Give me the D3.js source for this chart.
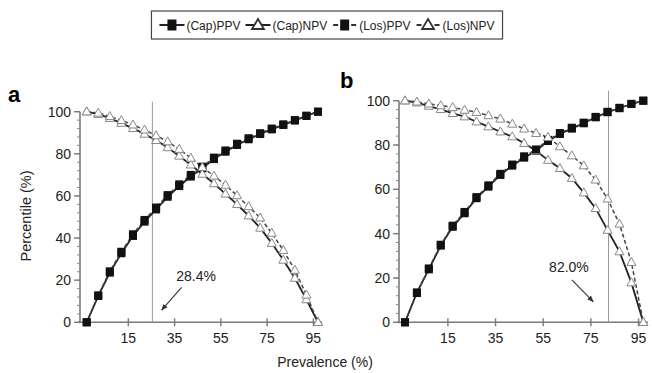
<!DOCTYPE html>
<html>
<head>
<meta charset="utf-8">
<script src="https://cdn.jsdelivr.net/npm/d3@7"></script>
<style>
  body { margin: 0; background: #fff; }
  text { font-family: "Liberation Sans", Arial, sans-serif; fill: #222; }
</style>
</head>
<body>
<svg id="chart" width="652" height="373"></svg>
<script>
// prevalence (%) of each point, shared by both panels
const prevalence = [0, 5, 10, 15, 20, 25, 30, 35, 40, 45, 50, 55, 60, 65, 70, 75, 80, 85, 90, 95, 100];

// panel a
const capPPV_a = [0, 12.5, 23.6, 32.8, 41.0, 47.8, 53.6, 59.6, 64.7, 69.2, 73.1, 77.5, 81.0, 84.2, 86.9, 89.4, 91.6, 93.7, 95.8, 98.0, 100];
const losPPV_a = [0, 12.8, 24.2, 33.5, 41.8, 48.6, 54.5, 60.4, 65.5, 70.0, 73.9, 78.2, 81.6, 84.8, 87.4, 89.8, 92.0, 94.0, 96.0, 98.1, 100];
const capNPV_a = [100, 98.8, 96.9, 94.6, 92.1, 89.4, 86.4, 83.0, 79.0, 74.8, 70.4, 65.9, 61.0, 56.0, 50.6, 44.8, 37.6, 29.6, 21.0, 10.8, 0];
const losNPV_a = [100, 99.4, 97.8, 95.9, 93.8, 91.4, 88.7, 85.8, 82.2, 78.0, 73.6, 69.5, 65.2, 60.2, 55.0, 49.6, 42.4, 34.2, 24.8, 13.0, 0];

// panel b
const capPPV_b = [0, 13.5, 23.9, 34.6, 43.1, 49.2, 56.0, 61.2, 66.5, 70.7, 74.3, 77.4, 81.8, 85.0, 87.4, 89.8, 92.5, 94.8, 96.6, 98.5, 100];
const losPPV_b = [0, 13.2, 24.3, 35.0, 43.6, 49.8, 56.5, 61.8, 67.0, 71.2, 74.9, 78.0, 82.3, 85.4, 87.8, 90.1, 92.7, 95.0, 96.8, 98.6, 100];
const capNPV_b = [100, 99.1, 97.6, 96.1, 94.3, 92.8, 90.5, 88.3, 86.0, 83.8, 80.8, 77.4, 73.2, 69.5, 65.0, 58.5, 51.4, 41.6, 31.9, 17.9, 0];
const losNPV_b = [100, 99.5, 98.6, 97.8, 97.0, 95.8, 94.8, 93.3, 91.8, 89.5, 87.3, 85.3, 83.5, 79.3, 75.2, 70.7, 64.3, 55.7, 44.4, 27.1, 0];

const xTickLabels = [15, 35, 55, 75, 95];
const yTicks = [0, 20, 40, 60, 80, 100];
const seriesNames = ["(Cap)PPV", "(Cap)NPV", "(Los)PPV", "(Los)NPV"];

// cut-off line (where it sits on the x axis) and its label, per panel
const cutPos = [28.4, 85.4];
const cutLabels = ["28.4%", "82.0%"];
// arrow tail / tip and label spot, in data units
const arrowTail = [[41, 16.6], [70, 19.1]];
const arrowTip = [[32.4, 5.8], [79, 9.3]];
const labelAt = [[47.3, 19.4], [68.8, 22.6]];

const svg = d3.select("#chart");

svg.append("defs").append("marker")
    .attr("id", "arrow")
    .attr("viewBox", "0 0 10 10")
    .attr("refX", 9).attr("refY", 5)
    .attr("markerWidth", 6).attr("markerHeight", 6)
    .attr("orient", "auto")
  .append("path")
    .attr("d", "M0,1 L10,5 L0,9 z")
    .attr("fill", "#333");

const styles = {
    "(Cap)PPV": { dash: null, sym: "square" },
    "(Cap)NPV": { dash: null, sym: "tri" },
    "(Los)PPV": { dash: "4,2.5", sym: "square" },
    "(Los)NPV": { dash: "4,2.5", sym: "tri" }
};

function drawMarker(g, kind, x, y, big) {
    if (kind === "square") {
        const w = big ? 9 : 8, h = big ? 11 : 8;
        g.append("rect")
            .attr("x", x - w / 2).attr("y", y - h / 2)
            .attr("width", w).attr("height", h)
            .attr("fill", "#111");
    } else {
        const w = big ? 12 : 9, h = big ? 10 : 8;
        g.append("path")
            .attr("d", `M${x},${y - h * 0.6} L${x + w / 2},${y + h * 0.4} L${x - w / 2},${y + h * 0.4} Z`)
            .attr("fill", "#fff")
            .attr("stroke", big ? "#333" : "#888")
            .attr("stroke-width", big ? 1.8 : 1);
    }
}

const panels = [
    { letter: "a", axisL: 80, axisR: 322, xr: [86.7, 318], yr: [322.3, 111.7], lx: 8, ly: 102,
      data: { "(Cap)PPV": capPPV_a, "(Cap)NPV": capNPV_a, "(Los)PPV": losPPV_a, "(Los)NPV": losNPV_a } },
    { letter: "b", axisL: 399, axisR: 648, xr: [405, 643.3], yr: [322.3, 100.7], lx: 340, ly: 88,
      data: { "(Cap)PPV": capPPV_b, "(Cap)NPV": capNPV_b, "(Los)PPV": losPPV_b, "(Los)NPV": losNPV_b } }
];

const tickShift = 3; // printed tick labels sit a little right of their value

panels.forEach((p, pi) => {
    const x = d3.scaleLinear().domain([0, 100]).range(p.xr);
    const y = d3.scaleLinear().domain([0, 100]).range(p.yr);
    const g = svg.append("g");

    // y axis with minor ticks
    g.append("line")
        .attr("x1", p.axisL).attr("x2", p.axisL)
        .attr("y1", y(0) + 1).attr("y2", y(100))
        .attr("stroke", "#7a7a7a").attr("stroke-width", 1.6);
    d3.range(0, 101, 4).forEach(v => {
        g.append("line")
            .attr("x1", p.axisL - 3).attr("x2", p.axisL)
            .attr("y1", y(v)).attr("y2", y(v))
            .attr("stroke", "#8a8a8a").attr("stroke-width", 1);
    });
    yTicks.forEach(v => {
        g.append("line")
            .attr("x1", p.axisL - 6).attr("x2", p.axisL)
            .attr("y1", y(v)).attr("y2", y(v))
            .attr("stroke", "#7a7a7a").attr("stroke-width", 1.4);
        g.append("text")
            .attr("x", p.axisL - 9).attr("y", y(v) + 5)
            .attr("text-anchor", "end")
            .style("font-size", "14px")
            .text(v);
    });

    // x axis
    g.append("line")
        .attr("x1", p.axisL - 2).attr("x2", p.axisR)
        .attr("y1", y(0)).attr("y2", y(0))
        .attr("stroke", "#7a7a7a").attr("stroke-width", 1.6);
    xTickLabels.forEach(v => {
        const tx = x(v + tickShift);
        g.append("line")
            .attr("x1", tx).attr("x2", tx)
            .attr("y1", y(0) - 4).attr("y2", y(0) + 4)
            .attr("stroke", "#7a7a7a").attr("stroke-width", 1.4);
        g.append("text")
            .attr("x", tx).attr("y", y(0) + 21)
            .attr("text-anchor", "middle")
            .style("font-size", "14px")
            .text(v);
    });

    // cut-off line
    g.append("line")
        .attr("x1", x(cutPos[pi])).attr("x2", x(cutPos[pi]))
        .attr("y1", y(0)).attr("y2", y(100) - 10)
        .attr("stroke", "#999").attr("stroke-width", 1);

    // series lines, then markers on top
    seriesNames.forEach(name => {
        const vals = p.data[name];
        const line = d3.line()
            .x((d, i) => x(prevalence[i]))
            .y(d => y(d));
        g.append("path")
            .datum(vals)
            .attr("d", line)
            .attr("fill", "none")
            .attr("stroke", styles[name].dash ? "#444" : "#222")
            .attr("stroke-width", styles[name].dash ? 1.5 : 1.8)
            .attr("stroke-dasharray", styles[name].dash);
    });
    seriesNames.forEach(name => {
        p.data[name].forEach((d, i) => drawMarker(g, styles[name].sym, x(prevalence[i]), y(d), false));
    });

    // annotation
    g.append("line")
        .attr("x1", x(arrowTail[pi][0])).attr("y1", y(arrowTail[pi][1]))
        .attr("x2", x(arrowTip[pi][0])).attr("y2", y(arrowTip[pi][1]))
        .attr("stroke", "#333").attr("stroke-width", 1.1)
        .attr("marker-end", "url(#arrow)");
    g.append("text")
        .attr("x", x(labelAt[pi][0])).attr("y", y(labelAt[pi][1]))
        .attr("text-anchor", "middle")
        .style("font-size", "14px")
        .text(cutLabels[pi]);

    // panel letter
    g.append("text")
        .attr("x", p.lx).attr("y", p.ly)
        .style("font-size", "22px").style("font-weight", "bold")
        .style("fill", "#000")
        .text(p.letter);
});

// axis titles
svg.append("text")
    .attr("transform", "translate(31,216) rotate(-90)")
    .attr("text-anchor", "middle")
    .style("font-size", "14.5px")
    .text("Percentile (%)");
svg.append("text")
    .attr("x", 325).attr("y", 367)
    .attr("text-anchor", "middle")
    .style("font-size", "14px")
    .text("Prevalence (%)");

// legend: lay items out, then size the box around them
const legend = svg.append("g");
const box = legend.append("rect")
    .attr("y", 11).attr("height", 28)
    .attr("fill", "#fff").attr("stroke", "#444").attr("stroke-width", 1.2);
const items = legend.append("g");
let lx = 0;
seriesNames.forEach(name => {
    const st = styles[name];
    const cy = 25;
    if (st.dash) {
        items.append("line").attr("x1", lx + 1).attr("x2", lx + 6).attr("y1", cy).attr("y2", cy)
            .attr("stroke", "#333").attr("stroke-width", 2);
        items.append("line").attr("x1", lx + 19).attr("x2", lx + 24).attr("y1", cy).attr("y2", cy)
            .attr("stroke", "#333").attr("stroke-width", 2);
    } else {
        items.append("line").attr("x1", lx).attr("x2", lx + 25).attr("y1", cy).attr("y2", cy)
            .attr("stroke", "#222").attr("stroke-width", 2);
    }
    drawMarker(items, st.sym, lx + 12.5, cy, true);
    const t = items.append("text")
        .attr("x", lx + 27).attr("y", cy + 4.5)
        .style("font-size", "12px")
        .text(name);
    lx += 27 + t.node().getComputedTextLength() + 5;
});
const legW = lx - 5 + 16;
const legX = 327 - legW / 2;
box.attr("x", legX).attr("width", legW);
items.attr("transform", `translate(${legX + 8},0)`);
</script>
</body>
</html>
